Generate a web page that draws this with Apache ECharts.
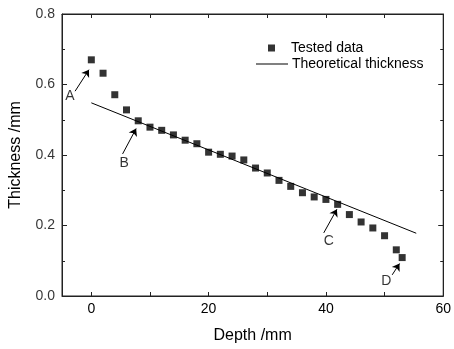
<!DOCTYPE html>
<html>
<head>
<meta charset="utf-8">
<script src="https://cdn.jsdelivr.net/npm/echarts@6/dist/echarts.min.js"></script>
<style>html,body{margin:0;padding:0;background:#fff}#c{width:454px;height:349px}</style>
</head>
<body>
<div id="c"></div>
<script>
var depth = [0,2,4,6,8,10,12,14,16,18,20,22,24,26,28,30,32,34,36,38,40,42,44,46,48,50,52,53];
var thickness = [0.670,0.632,0.571,0.528,0.497,0.479,0.470,0.457,0.442,0.432,0.408,0.402,0.397,0.386,0.363,0.349,0.328,0.311,0.293,0.281,0.274,0.260,0.231,0.210,0.193,0.171,0.131,0.109];
var theoryDepth = [0, 55.4];
var theoryThickness = [0.548, 0.178];
var xTickValues = [0,10,20,30,40,50,60];
var xLabelValues = [0,20,40,60];
var yTickValues = [0,0.2,0.4,0.6,0.8];
var yTickLabels = ['0.0','0.2','0.4','0.6','0.8'];
var annotLabels = ['A','B','C','D'];
var annotText = [[-3.66,0.566],[5.62,0.378],[40.5,0.156],[50.3,0.041]];
var annotArrowFrom = [[-2.77,0.581],[5.33,0.403],[39.63,0.179],[51.3,0.060]];
var annotArrowTo = [[-0.40,0.642],[7.64,0.475],[41.87,0.246],[52.55,0.092]];

var FONT = 'Liberation Sans, Arial, sans-serif';
var AX = '#222';
var xMin = -5, xMax = 60;

function xAx(pos, labels){
  return {type:'value', position:pos, min:xMin, max:xMax, z:10,
    axisLine:{show:true, onZero:false, lineStyle:{color:AX, width:1}},
    axisTick:{show:true, inside:true, length:4, customValues:xTickValues, lineStyle:{color:AX, width:1}},
    axisLabel:{show:labels, customValues:xLabelValues, margin:6, color:'#000', fontSize:14, fontFamily:FONT},
    splitLine:{show:false}};
}
function yAx(pos){
  return {type:'value', position:pos, min:0, max:0.8, interval:0.2, z:10,
    axisLine:{show:true, onZero:false, lineStyle:{color:AX, width:1}},
    axisTick:{show:true, inside:true, length:5, lineStyle:{color:AX, width:1}},
    minorTick:{show:true, splitNumber:2, length:3, lineStyle:{color:AX}},
    axisLabel:{show:false},
    splitLine:{show:false}};
}
var xAxes = [xAx('bottom', true), xAx('top', false)];
xAxes[0].name = 'Depth /mm';
xAxes[0].nameLocation = 'middle';
xAxes[0].nameGap = 32;
xAxes[0].nameTextStyle = {fontSize:16, color:'#000', fontFamily:FONT};
var yAxes = [yAx('left'), yAx('right')];
yAxes[0].name = 'Thickness /mm';
yAxes[0].nameLocation = 'middle';
yAxes[0].nameGap = 38;
yAxes[0].nameTextStyle = {fontSize:16, color:'#000', fontFamily:FONT};

var arrows = [];
for (var i=0;i<annotLabels.length;i++){
  arrows.push([{coord:annotArrowFrom[i], symbol:'none'},{coord:annotArrowTo[i], symbol:'arrow'}]);
}
var textData = annotText.map(function(p,i){return {value:p, name:annotLabels[i]};});
var yLabelData = yTickValues.map(function(v,i){return {value:[xMin, v], name:yTickLabels[i]};});

var chart = echarts.init(document.getElementById('c'), null, {renderer:'canvas'});
chart.setOption({
  animation:false,
  backgroundColor:'#fff',
  grid:{left:61, right:6, top:14, bottom:50, containLabel:false,
        show:true, z:10, borderColor:AX, borderWidth:1, backgroundColor:'transparent'},
  xAxis:xAxes,
  yAxis:yAxes,
  legend:[
    {data:[{name:'Tested data', icon:'rect'}], left:268, top:41, padding:0, itemWidth:7, itemHeight:7, itemGap:0,
     textStyle:{fontSize:14, color:'#000', fontFamily:FONT, padding:[0,0,0,11]}},
    {data:[{name:'Theoretical thickness', icon:'rect'}], left:256, top:57, padding:0, itemWidth:32, itemHeight:1, itemGap:0,
     textStyle:{fontSize:14, color:'#000', fontFamily:FONT, padding:[0,0,0,-1]}}
  ],
  series:[
    {name:'Theoretical thickness', type:'line', showSymbol:false, symbol:'none',
     data:theoryDepth.map(function(d,i){return [d, theoryThickness[i]];}),
     lineStyle:{color:'#000', width:1}, itemStyle:{color:'#000'}, z:2},
    {name:'Tested data', type:'scatter', symbol:'rect', symbolSize:7,
     data:depth.map(function(d,i){return [d, thickness[i]];}),
     itemStyle:{color:'#000'}, z:3},
    {name:'annot', type:'scatter', symbolSize:0, data:textData,
     label:{show:true, position:'inside', formatter:'{b}', color:'#000', fontSize:14, fontFamily:FONT},
     markLine:{silent:true, symbolSize:7, label:{show:false},
       lineStyle:{color:'#000', width:1, type:'solid'}, data:arrows}, z:4},
    {name:'yLabels', type:'scatter', symbolSize:0, data:yLabelData, clip:false,
     label:{show:true, position:'left', distance:7, formatter:'{b}', color:'#000', fontSize:14, fontFamily:FONT}, z:4}
  ]
});
</script>
</body>
</html>
